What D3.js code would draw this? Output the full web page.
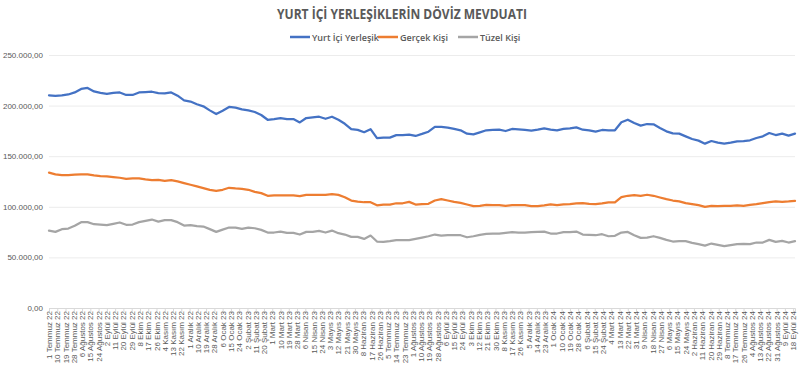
<!DOCTYPE html>
<html>
<head>
<meta charset="utf-8">
<script src="https://cdn.jsdelivr.net/npm/d3@7"></script>
<style>
  body { margin: 0; background: #ffffff; }
  svg { display: block; }
</style>
</head>
<body>
<script>
var SVG_WIDTH = 800;
var SVG_HEIGHT = 367;

var margin = { left: 49, right: 5, top: 55, bottom: 59 };

var text_color = "#595959";
var grid_color = "#ececec";

// weekly data, first week 1 Temmuz 2022 (Friday)
var start_date = new Date(2022, 6, 1);

var series_names = ["Yurt İçi Yerleşik", "Gerçek Kişi", "Tüzel Kişi"];
var series_colors = ["#4472C4", "#ED7D31", "#A5A5A5"];

var yurt_ici = [
  210.2, 209.5, 210.0, 211.0, 213.0, 216.5, 217.5, 214.0, 212.5, 211.5,
  212.5, 213.0, 210.5, 210.5, 213.0, 213.3, 213.7, 212.3, 212.0, 213.0,
  209.8, 205.2, 204.0, 201.3, 199.3, 195.3, 191.7, 195.0, 198.7, 198.0,
  196.3, 195.3, 193.7, 190.7, 186.0, 186.7, 187.7, 186.7, 186.7, 183.4,
  187.7, 188.4, 189.0, 187.0, 189.0, 186.0, 182.0, 176.7, 176.0, 173.7,
  176.7, 167.8, 168.4, 168.4, 170.8, 170.8, 171.4, 170.0, 172.0, 174.2,
  178.9, 178.9, 178.2, 176.9, 175.6, 172.3, 171.6, 173.6, 175.6, 175.9,
  176.2, 174.9, 176.9, 176.6, 175.9, 175.2, 176.2, 177.5, 176.2, 175.6,
  176.9, 177.5, 178.5, 176.2, 175.6, 174.2, 175.9, 175.6, 175.6, 183.5,
  186.1, 182.8, 180.2, 181.8, 181.5, 177.9, 174.6, 172.6, 172.3, 169.6,
  167.0, 165.4, 162.4, 165.0, 163.4, 162.4, 163.4, 164.7, 165.0, 165.7,
  168.0, 169.6, 172.9, 170.9, 172.3, 170.3, 172.3
];

var gercek_kisi = [
  133.7, 132.0, 131.4, 131.4, 131.7, 132.0, 132.0, 131.1, 130.4, 130.1,
  129.4, 128.7, 127.7, 128.1, 128.1, 127.1, 126.4, 126.7, 125.7, 126.4,
  125.1, 123.4, 121.8, 120.1, 118.5, 116.8, 115.8, 116.8, 118.8, 118.1,
  117.8, 116.8, 114.8, 113.5, 110.9, 111.2, 111.2, 111.2, 111.2, 110.5,
  111.8, 111.8, 111.8, 111.8, 112.5, 111.8, 109.5, 106.2, 105.2, 104.5,
  104.5, 101.5, 102.2, 102.2, 103.5, 103.5, 104.9, 102.2, 102.7, 103.0,
  106.2, 107.6, 106.2, 104.9, 103.9, 102.3, 100.6, 100.9, 101.9, 101.6,
  101.6, 100.9, 101.6, 101.6, 101.6, 100.6, 100.6, 101.3, 102.3, 101.6,
  102.3, 102.6, 103.3, 103.6, 102.9, 102.6, 103.3, 104.3, 104.3, 109.5,
  110.9, 111.5, 110.9, 111.9, 110.9, 109.2, 107.6, 106.2, 105.3, 103.6,
  102.6, 101.6, 100.0, 100.9, 100.6, 100.9, 100.9, 101.3, 100.9, 101.9,
  102.6, 103.6, 104.6, 105.3, 104.9, 105.3, 105.9
];

var tuzel_kisi = [
  76.5, 75.2, 77.9, 78.5, 81.2, 84.8, 84.8, 82.8, 82.5, 81.8,
  83.2, 84.5, 82.2, 82.5, 84.8, 86.1, 87.4, 85.4, 86.8, 86.8,
  84.8, 81.5, 81.8, 80.8, 80.5, 77.9, 75.2, 77.5, 79.5, 79.5,
  78.2, 79.5, 78.8, 77.2, 74.6, 74.6, 75.5, 74.2, 74.2, 72.6,
  75.2, 75.2, 76.2, 74.6, 76.5, 73.9, 72.6, 70.3, 70.3, 68.3,
  71.6, 65.7, 65.3, 66.0, 67.0, 67.0, 67.0, 68.3, 69.6, 70.9,
  72.6, 71.6, 71.9, 71.9, 71.9, 69.9, 70.9, 72.3, 73.3, 73.6,
  73.6, 74.2, 74.9, 74.6, 74.6, 74.9, 75.2, 75.5, 73.6, 73.6,
  74.9, 74.9, 75.5, 72.6, 72.3, 71.9, 72.9, 70.9, 71.3, 74.6,
  75.2, 71.9, 69.3, 69.6, 70.9, 69.3, 67.3, 65.7, 66.0, 66.0,
  64.4, 63.1, 61.7, 63.7, 62.4, 61.1, 62.1, 63.1, 63.4, 63.1,
  64.7, 64.7, 67.3, 65.3, 66.3, 64.7, 66.0
];

var y_ticks = [0, 50000, 100000, 150000, 200000, 250000];

var x_tick_labels = [
  "1 Temmuz 22", "10 Temmuz 22", "19 Temmuz 22", "28 Temmuz 22", "6 Ağustos 22",
  "15 Ağustos 22", "24 Ağustos 22", "2 Eylül 22", "11 Eylül 22", "20 Eylül 22",
  "29 Eylül 22", "8 Ekim 22", "17 Ekim 22", "26 Ekim 22", "4 Kasım 22",
  "13 Kasım 22", "22 Kasım 22", "1 Aralık 22", "10 Aralık 22", "19 Aralık 22",
  "28 Aralık 22", "6 Ocak 23", "15 Ocak 23", "24 Ocak 23", "2 Şubat 23",
  "11 Şubat 23", "20 Şubat 23", "1 Mart 23", "10 Mart 23", "19 Mart 23",
  "28 Mart 23", "6 Nisan 23", "15 Nisan 23", "24 Nisan 23", "3 Mayıs 23",
  "12 Mayıs 23", "21 Mayıs 23", "30 Mayıs 23", "8 Haziran 23", "17 Haziran 23",
  "26 Haziran 23", "5 Temmuz 23", "14 Temmuz 23", "23 Temmuz 23", "1 Ağustos 23",
  "10 Ağustos 23", "19 Ağustos 23", "28 Ağustos 23", "6 Eylül 23", "15 Eylül 23",
  "24 Eylül 23", "3 Ekim 23", "12 Ekim 23", "21 Ekim 23", "30 Ekim 23",
  "8 Kasım 23", "17 Kasım 23", "26 Kasım 23", "5 Aralık 23", "14 Aralık 23",
  "23 Aralık 23", "1 Ocak 24", "10 Ocak 24", "19 Ocak 24", "28 Ocak 24",
  "6 Şubat 24", "15 Şubat 24", "24 Şubat 24", "4 Mart 24", "13 Mart 24",
  "22 Mart 24", "31 Mart 24", "9 Nisan 24", "18 Nisan 24", "27 Nisan 24",
  "6 Mayıs 24", "15 Mayıs 24", "24 Mayıs 24", "2 Haziran 24", "11 Haziran 24",
  "20 Haziran 24", "29 Haziran 24", "8 Temmuz 24", "17 Temmuz 24", "26 Temmuz 24",
  "4 Ağustos 24", "13 Ağustos 24", "22 Ağustos 24", "31 Ağustos 24", "9 Eylül 24",
  "18 Eylül 24"
];

var month_names = ["Ocak", "Şubat", "Mart", "Nisan", "Mayıs", "Haziran",
                   "Temmuz", "Ağustos", "Eylül", "Ekim", "Kasım", "Aralık"];

function parseLabel(s) {
  var p = s.split(" ");
  return new Date(2000 + (+p[2]), month_names.indexOf(p[1]), +p[0]);
}

var tr = d3.formatLocale({ decimal: ",", thousands: ".", grouping: [3], currency: ["", "₺"] });
var fmt = tr.format(",.2f");

function initialize() {
  var svg = d3.select("body").append("svg")
      .attr("width", SVG_WIDTH)
      .attr("height", SVG_HEIGHT)
      .style("font-family", "'Open Sans', 'Noto Sans', sans-serif");

  var dates = yurt_ici.map(function(d, i) { return d3.timeDay.offset(start_date, 7 * i); });

  var x = d3.scaleTime()
      .domain([start_date, dates[dates.length - 1]])
      .range([margin.left, SVG_WIDTH - margin.right]);

  var y = d3.scaleLinear()
      .domain([0, 250000])
      .range([SVG_HEIGHT - margin.bottom, margin.top]);

  // title
  svg.append("text")
      .attr("x", 277).attr("y", 19)
      .attr("textLength", 250)
      .attr("lengthAdjust", "spacingAndGlyphs")
      .style("font-size", "14px")
      .style("font-weight", "bold")
      .style("fill", text_color)
      .text("YURT İÇİ YERLEŞİKLERİN DÖVİZ MEVDUATI");

  // legend
  var legend_x = [290, 378, 458];
  series_names.forEach(function(name, i) {
    var g = svg.append("g").attr("transform", "translate(" + legend_x[i] + ",37)");
    g.append("line").attr("x1", 0).attr("x2", 20).attr("y1", 0).attr("y2", 0)
        .style("stroke", series_colors[i]).style("stroke-width", 2.5);
    g.append("text").attr("x", 22).attr("y", 3.5)
        .style("font-size", "9px").style("font-weight", "600")
        .style("fill", text_color).text(name);
  });

  // y grid + labels
  var yAxis = d3.axisLeft(y).tickValues(y_ticks).tickFormat(fmt)
      .tickSize(-(SVG_WIDTH - margin.left - margin.right)).tickPadding(6);
  var gy = svg.append("g").attr("transform", "translate(" + margin.left + ",0)").call(yAxis);
  gy.select(".domain").remove();
  gy.selectAll("line").style("stroke", grid_color);
  gy.selectAll("text").style("font-size", "8px").style("fill", text_color).style("font-family", "inherit");

  // x axis
  var xAxis = d3.axisBottom(x)
      .tickValues(x_tick_labels.map(parseLabel))
      .tickFormat(function(d, i) { return x_tick_labels[i]; })
      .tickSize(4);
  var gx = svg.append("g").attr("transform", "translate(0," + y(0) + ")").call(xAxis);
  gx.select(".domain").style("stroke", "#d9d9d9");
  gx.selectAll("line").style("stroke", "#d9d9d9");
  gx.selectAll("text")
      .attr("transform", "rotate(-90)")
      .attr("text-anchor", "end")
      .attr("x", -3).attr("y", 0).attr("dy", "0.32em")
      .style("font-size", "8px").style("fill", text_color).style("font-family", "inherit");

  // lines
  var all_series = [yurt_ici, gercek_kisi, tuzel_kisi];
  var line = d3.line()
      .x(function(d, i) { return x(dates[i]); })
      .y(function(d) { return y(d * 1000); });

  all_series.forEach(function(s, i) {
    svg.append("path").datum(s)
        .attr("d", line)
        .style("fill", "none")
        .style("stroke", series_colors[i])
        .style("stroke-width", 2.25)
        .style("stroke-linejoin", "round")
        .style("stroke-linecap", "round");
  });
}

initialize();
</script>
</body>
</html>
